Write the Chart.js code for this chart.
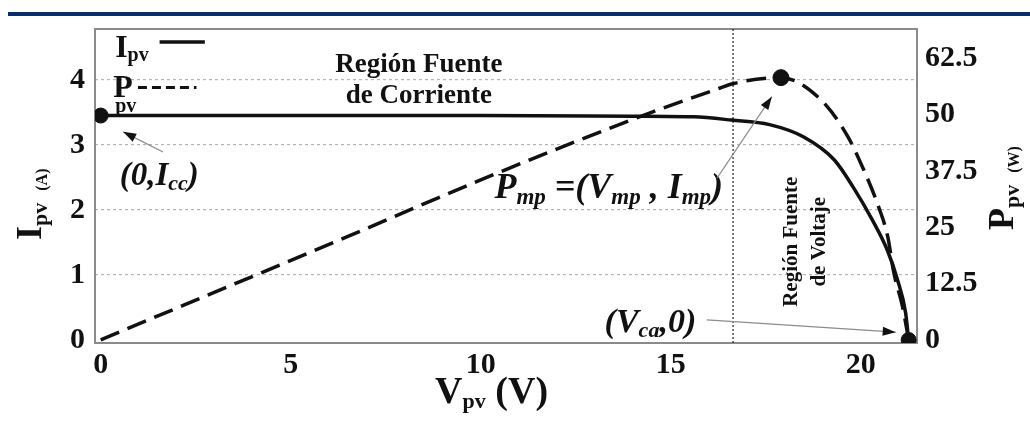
<!DOCTYPE html>
<html>
<head>
<meta charset="utf-8">
<script src="https://cdn.jsdelivr.net/npm/chart.js@4.4.1/dist/chart.umd.min.js"></script>
<style>
  html, body { margin: 0; padding: 0; background: #fff; }
  #wrap { position: relative; width: 1030px; height: 422px; }
  #bar { position: absolute; left: 8px; top: 12px; width: 1022px; height: 4px; background: #0c2d6b; }
  canvas { position: absolute; left: 0; top: 0; }
</style>
</head>
<body>
<div id="wrap">
  <canvas id="chart" width="1030" height="422"></canvas>
  <div id="bar"></div>
</div>
<script>
// I-V curve (left axis, A)
const V_I = [0, 5, 10, 14, 15.6, 16.6, 17.6, 18.5, 19.3, 19.8, 20.3, 20.7, 20.97, 21.18, 21.26];
const I_PV = [3.45, 3.45, 3.45, 3.44, 3.43, 3.38, 3.31, 3.12, 2.77, 2.35, 1.85, 1.38, 0.92, 0.42, 0];

// P-V curve (right axis, W)
const V_P = [0, 6.6, 10, 14.3, 16.3, 16.6, 17.9, 18.95, 19.66, 20.08, 20.47, 20.71, 20.87, 21.1, 21.26];
const P_PV = [0, 23.3, 35.5, 49.9, 55.9, 56.8, 58.2, 53.3, 45.1, 37.7, 29.5, 22.9, 14.9, 7.3, 0];

// marked points
const MARK_V = [0, 21.26];
const MARK_I = [3.45, 0];
const MPP_V = [17.9];
const MPP_P = [58.2];

// boundary between the two regions
const V_BOUNDARY = 16.64;

const V_TICKS = [0, 5, 10, 15, 20];
const I_TICKS = [0, 1, 2, 3, 4];
const P_TICKS = [0, 12.5, 25, 37.5, 50, 62.5];

const SERIF = '"Liberation Serif", "Times New Roman", serif';
const toXY = (xs, ys) => xs.map((x, i) => ({ x: x, y: ys[i] }));
const setTicks = (list) => (s) => { s.ticks = list.map((v) => ({ value: v })); };

// text with subscripts: parts = [text, size, dy, style, dx]
function rich(ctx, x, y, parts, align) {
  let w = 0;
  parts.forEach((p) => {
    ctx.font = `${p[3] || "bold"} ${p[1]}px ${SERIF}`;
    w += ctx.measureText(p[0]).width;
  });
  let cx = align === "center" ? x - w / 2 : x;
  ctx.textAlign = "left";
  ctx.textBaseline = "alphabetic";
  parts.forEach((p) => {
    ctx.font = `${p[3] || "bold"} ${p[1]}px ${SERIF}`;
    ctx.fillText(p[0], cx, y + (p[2] || 0));
    cx += ctx.measureText(p[0]).width;
  });
}

function arrow(ctx, x1, y1, x2, y2) {
  ctx.save();
  ctx.strokeStyle = "#8c8c8c";
  ctx.lineWidth = 1.3;
  ctx.beginPath();
  ctx.moveTo(x1, y1);
  ctx.lineTo(x2, y2);
  ctx.stroke();
  const a = Math.atan2(y2 - y1, x2 - x1);
  ctx.fillStyle = "#111";
  ctx.beginPath();
  ctx.moveTo(x2, y2);
  ctx.lineTo(x2 - 13 * Math.cos(a) + 4.5 * Math.sin(a), y2 - 13 * Math.sin(a) - 4.5 * Math.cos(a));
  ctx.lineTo(x2 - 13 * Math.cos(a) - 4.5 * Math.sin(a), y2 - 13 * Math.sin(a) + 4.5 * Math.cos(a));
  ctx.closePath();
  ctx.fill();
  ctx.restore();
}

const decorations = {
  id: "decorations",
  beforeDatasetsDraw(chart) {
    const { ctx, chartArea: ca, scales } = chart;
    const x = scales.x.getPixelForValue(V_BOUNDARY);
    ctx.save();
    // plot frame
    ctx.strokeStyle = "#8a8a8a";
    ctx.lineWidth = 2;
    ctx.strokeRect(ca.left, ca.top, ca.right - ca.left, ca.bottom - ca.top);
    // region boundary
    ctx.strokeStyle = "#222";
    ctx.lineWidth = 1.2;
    ctx.setLineDash([2, 2]);
    ctx.beginPath();
    ctx.moveTo(x, ca.top);
    ctx.lineTo(x, ca.bottom);
    ctx.stroke();
    ctx.restore();
  },
  afterDraw(chart) {
    const { ctx, scales } = chart;
    const X = (v) => scales.x.getPixelForValue(v);
    const Y = (i) => scales.yI.getPixelForValue(i);
    ctx.save();
    ctx.fillStyle = "#111";

    // legend
    rich(ctx, X(0.38), Y(4.35), [["I", 32], ["pv", 20, 4]]);
    ctx.strokeStyle = "#111";
    ctx.lineWidth = 3.5;
    ctx.beginPath();
    ctx.moveTo(X(1.55), Y(4.58));
    ctx.lineTo(X(2.74), Y(4.58));
    ctx.stroke();
    rich(ctx, X(0.33), Y(3.74), [["P", 32]]);
    rich(ctx, X(0.38), Y(3.51), [["pv", 20]]);
    ctx.lineWidth = 3;
    ctx.setLineDash([9, 5]);
    ctx.beginPath();
    ctx.moveTo(X(0.98), Y(3.88));
    ctx.lineTo(X(2.52), Y(3.88));
    ctx.stroke();
    ctx.setLineDash([]);

    // region labels
    rich(ctx, X(8.37), Y(4.12), [["Región Fuente", 27]], "center");
    rich(ctx, X(8.37), Y(3.65), [["de Corriente", 27]], "center");
    ctx.save();
    ctx.translate(X(18.32), Y(1.51));
    ctx.rotate(-Math.PI / 2);
    rich(ctx, 0, 0, [["Región Fuente", 21]], "center");
    ctx.restore();
    ctx.save();
    ctx.translate(X(19.06), Y(1.51));
    ctx.rotate(-Math.PI / 2);
    rich(ctx, 0, 0, [["de Voltaje", 21]], "center");
    ctx.restore();

    // point labels
    const it = "italic bold";
    rich(ctx, X(0.5), Y(2.38), [["(0,I", 33, 0, it], ["cc", 22, 5, it], [")", 33, 0, it]]);
    rich(ctx, X(10.36), Y(2.18), [
      ["P", 36, 0, it], ["mp", 23, 6, it], [" =(V", 36, 0, it], ["mp", 23, 6, it],
      [" , I", 36, 0, it], ["mp", 23, 6, it], [")", 36, 0, it]
    ]);
    rich(ctx, X(13.26), Y(0.12), [["(V", 34, 0, it], ["ca", 22, 5, it], [",0)", 34, 0, it]]);

    arrow(ctx, X(1.64), Y(2.89), X(0.59), Y(3.2));
    arrow(ctx, X(16.22), Y(2.49), X(17.66), Y(3.74));
    arrow(ctx, X(15.95), Y(0.31), X(20.92), Y(0.12));

    // axis titles
    rich(ctx, X(8.8), 403, [["V", 38], ["pv", 22, 5], [" (V)", 38]], "left");
    ctx.save();
    ctx.translate(41, 240);
    ctx.rotate(-Math.PI / 2);
    rich(ctx, 0, 0, [["I", 36], ["pv", 22, 6], ["   (A)", 16, 6]]);
    ctx.restore();
    ctx.save();
    ctx.translate(1013, 230);
    ctx.rotate(-Math.PI / 2);
    rich(ctx, 0, 0, [["P", 36], ["pv", 22, 6], ["   (W)", 16, 6]]);
    ctx.restore();

    ctx.restore();
  }
};

const tickFont = { family: SERIF, size: 30, weight: "bold" };

new Chart(document.getElementById("chart"), {
  type: "line",
  data: {
    datasets: [
      {
        label: "Ipv",
        data: toXY(V_I, I_PV),
        yAxisID: "yI",
        borderColor: "#111",
        borderWidth: 3.5,
        pointRadius: 0,
        cubicInterpolationMode: "monotone"
      },
      {
        label: "Ppv",
        data: toXY(V_P, P_PV),
        yAxisID: "yP",
        borderColor: "#111",
        borderWidth: 3.5,
        borderDash: [20, 9],
        pointRadius: 0,
        cubicInterpolationMode: "monotone"
      },
      {
        label: "marks",
        data: toXY(MARK_V, MARK_I),
        yAxisID: "yI",
        showLine: false,
        pointRadius: 7.5,
        pointBackgroundColor: "#111",
        pointBorderColor: "#111"
      },
      {
        label: "mpp",
        data: toXY(MPP_V, MPP_P),
        yAxisID: "yP",
        showLine: false,
        pointRadius: 8,
        pointBackgroundColor: "#111",
        pointBorderColor: "#111"
      }
    ]
  },
  options: {
    responsive: false,
    animation: false,
    layout: { padding: { top: 29, left: 0, right: 0, bottom: 0 } },
    plugins: { legend: { display: false }, tooltip: { enabled: false } },
    scales: {
      x: {
        type: "linear",
        min: -0.15,
        max: 21.48,
        afterBuildTicks: setTicks(V_TICKS),
        afterFit: (s) => { s.height = 79; },
        grid: { display: false, drawTicks: false },
        border: { display: false },
        ticks: { font: tickFont, color: "#111", padding: 4, maxRotation: 0 }
      },
      yI: {
        position: "left",
        min: -0.046,
        max: 4.78,
        afterBuildTicks: setTicks(I_TICKS),
        afterFit: (s) => { s.width = 95; },
        grid: {
          drawTicks: false,
          lineWidth: 1.2,
          color: (c) => (c.tick && c.tick.value === 0 ? "rgba(0,0,0,0)" : "#b5b5b5")
        },
        border: { display: false, dash: [3, 3] },
        ticks: { font: tickFont, color: "#111", padding: 10 }
      },
      yP: {
        position: "right",
        min: -0.7,
        max: 69,
        afterBuildTicks: setTicks(P_TICKS),
        afterFit: (s) => { s.width = 113; },
        grid: { display: false, drawTicks: false },
        border: { display: false },
        ticks: { font: tickFont, color: "#111", padding: 8, callback: (v) => String(v) }
      }
    }
  },
  plugins: [decorations]
});
</script>
</body>
</html>
